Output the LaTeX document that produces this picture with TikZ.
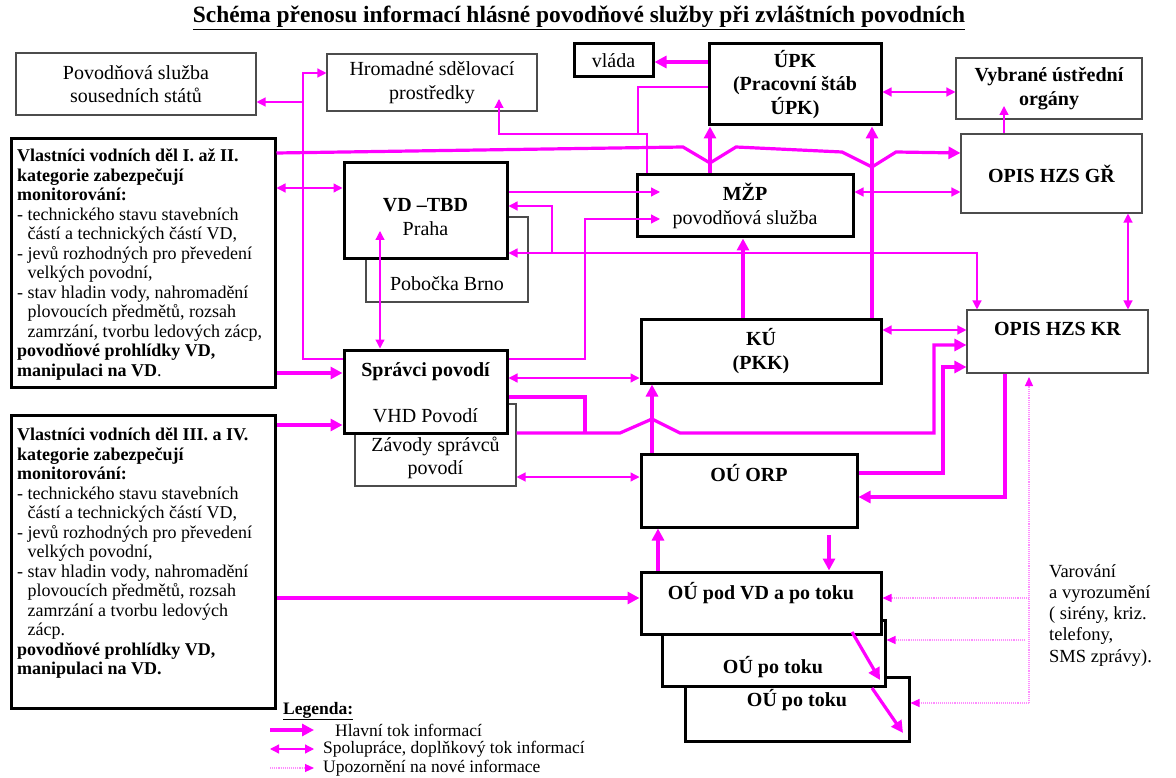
\documentclass[tikz,border=0pt]{standalone}
\usepackage{fontspec}
\setmainfont{Liberation Serif}
\usetikzlibrary{arrows.meta}
\definecolor{flow}{RGB}{255,0,255}
\def\boxfont{\fontsize{20}{23.5}\selectfont}
\def\leftfont{\fontsize{18}{19.5}\selectfont}
\def\legfont{\fontsize{17.5}{19}\selectfont}
\def\titlefont{\fontsize{23.4}{27}\selectfont\bfseries}
\tikzset{
	thickbox/.style={draw=black, line width=3pt, fill=white, inner sep=0pt, font=\boxfont, align=center},
	thinbox/.style={draw=black!70, line width=1.1pt, fill=white, inner sep=0pt, font=\boxfont, align=center},
	mainline/.style={draw=flow, line width=3.2pt, >={Triangle[length=12pt,width=12pt]}},
	sideline/.style={draw=flow, line width=1.3pt, >={Triangle[length=9pt,width=9pt]}},
	noteline/.style={draw=flow!45, line width=1.1pt, densely dotted, >={Triangle[length=9pt,width=8pt,color=flow]}},
	lefttext/.style={anchor=north west, inner sep=0pt, align=left, font=\leftfont},
	legtext/.style={anchor=west, inner sep=0pt, font=\legfont},
}

\begin{document}
\begin{tikzpicture}[x=1pt, y=-1pt]
			%%%%% START %%%%%
			\fill[white] (0,0) rectangle (1176,778);
			\useasboundingbox (0,0) rectangle (1176,778);
			
			\node[font=\titlefont] (title) at (579,18) {\underline{Schéma přenosu informací hlásné povodňové služby při zvláštních povodních}};
			
			% boxes at the back
			\node[thinbox, minimum width=162, minimum height=85] (brno) at (447,259.5) {};
			\node[thinbox, minimum width=161, minimum height=82] (zavody) at (435.5,445) {};
			\node[thickbox, minimum width=224, minimum height=64] (oupo2) at (797,709) {};
			\node[thickbox, minimum width=223, minimum height=66] (oupo1) at (773.5,653) {};
			
			% boxes
			\node[thinbox, minimum width=240, minimum height=62] (sousedni) at (136,84) {Povodňová služba\\sousedních států};
			\node[thinbox, minimum width=210, minimum height=57] (media) at (432,82.5) {Hromadné sdělovací\\prostředky};
			\node[thickbox, minimum width=79, minimum height=33] (vlada) at (613.5,60.5) {vláda};
			\node[thickbox, minimum width=172, minimum height=81, font=\boxfont\bfseries] (upk) at (795,84.5) {ÚPK\\(Pracovní štáb\\ÚPK)};
			\node[thinbox, minimum width=186, minimum height=61, font=\boxfont\bfseries] (vybrane) at (1049,88.5) {Vybrané ústřední\\orgány};
			\node[thickbox, minimum width=264, minimum height=248] (vlast1) at (143,263) {};
			\node[thickbox, minimum width=163, minimum height=96] (vdtbd) at (425.5,211) {};
			\node[thickbox, minimum width=216, minimum height=62] (mzp) at (745,206) {\textbf{MŽP}\\povodňová služba};
			\node[thinbox, minimum width=181, minimum height=79, font=\boxfont\bfseries] (opisgr) at (1051.5,173.5) {OPIS HZS GŘ};
			\node[thickbox, minimum width=240, minimum height=64, font=\boxfont\bfseries] (ku) at (761,351) {KÚ\\(PKK)};
			\node[thinbox, minimum width=181, minimum height=63] (opiskr) at (1057.5,341.5) {};
			\node[thickbox, minimum width=163, minimum height=83] (spravci) at (425.5,391.5) {};
			\node[thickbox, minimum width=264, minimum height=293] (vlast2) at (143,561.5) {};
			\node[thickbox, minimum width=216, minimum height=73] (orp) at (749,490.5) {};
			\node[thickbox, minimum width=240, minimum height=62] (oupod) at (761,603) {};
			
			% texts in the boxes
			\node[font=\boxfont, align=center] (vdtbdtxt) at (425.5,217) {\textbf{VD –TBD}\\Praha};
			\node[font=\boxfont] (brnotxt) at (447,284) {Pobočka Brno};
			\node[font=\boxfont\bfseries] (opiskrtxt) at (1057.5,329) {OPIS HZS KR};
			\node[font=\boxfont\bfseries] (spravcitxt) at (425.5,372) {Správci povodí};
			\node[font=\boxfont] (vhdtxt) at (425.5,416) {VHD Povodí};
			\node[font=\boxfont, align=center] (zavodytxt) at (435.5,458) {Závody správců\\povodí};
			\node[font=\boxfont\bfseries] (orptxt) at (749,473) {OÚ ORP};
			\node[font=\boxfont\bfseries] (oupodtxt) at (761,593) {OÚ pod VD a po toku};
			\node[font=\boxfont\bfseries] (oupo1txt) at (773,667) {OÚ po toku};
			\node[font=\boxfont\bfseries] (oupo2txt) at (797,700) {OÚ po toku};
			
			\node[lefttext] (vlast1txt) at (17,149) {\textbf{Vlastníci vodních děl I. až II.}\\
				\textbf{kategorie zabezpečují}\\
				\textbf{monitorování:}\\
				- technického stavu stavebních\\
				\phantom{- }částí a technických částí VD,\\
				- jevů rozhodných pro převedení\\
				\phantom{- }velkých povodní,\\
				- stav hladin vody, nahromadění\\
				\phantom{- }plovoucích předmětů, rozsah\\
				\phantom{- }zamrzání, tvorbu ledových zácp,\\
				\textbf{povodňové prohlídky VD,}\\
				\textbf{manipulaci na VD}.};
			\node[lefttext] (vlast2txt) at (17,428) {\textbf{Vlastníci vodních děl III. a IV.}\\
				\textbf{kategorie zabezpečují}\\
				\textbf{monitorování:}\\
				- technického stavu stavebních\\
				\phantom{- }částí a technických částí VD,\\
				- jevů rozhodných pro převedení\\
				\phantom{- }velkých povodní,\\
				- stav hladin vody, nahromadění\\
				\phantom{- }plovoucích předmětů, rozsah\\
				\phantom{- }zamrzání a tvorbu ledových\\
				\phantom{- }zácp.\\
				\textbf{povodňové prohlídky VD,}\\
				\textbf{manipulaci na VD.}};
			
			\node[lefttext, font=\fontsize{18.5}{21.3}\selectfont] (varovani) at (1049,564) {Varování\\a vyrozumění\\( sirény, kriz.\\telefony,\\SMS zprávy).};
			
			% thin lines
			\draw[sideline, ->] (spravci.west |- 0,359) -- (303,359) -- (303,73) -- (media.west |- 0,73);
			\draw[sideline, ->] (303,102) -- (sousedni.east |- 0,102);
			\draw[sideline, <->] (vlast1.east |- 0,188) -- (vdtbd.west |- 0,188);
			\draw[sideline] (upk.west |- 0,87) -- (638,87) -- (638,134);
			\draw[sideline, ->] (mzp.north -| 647,0) -- (647,134) -- (499,134) -- (499,99);
			\draw[sideline, <->] (upk.east |- 0,92) -- (vybrane.west |- 0,92);
			\draw[sideline, ->] (opisgr.north -| 1004,0) -- (1004,106);
			\draw[sideline, ->] (vdtbd.east |- 0,192) -- (660,192);
			\draw[sideline, ->] (spravci.east |- 0,359) -- (585,359) -- (585,219) -- (660,219);
			\draw[sideline, <->] (vdtbd.east |- 0,253) -- (977,253) -- (opiskr.north -| 977,0);
			\draw[sideline, ->] (552,253) -- (552,206) -- (vdtbd.east |- 0,206);
			\draw[sideline, <->] (380,231) -- (spravci.north -| 380,0);
			\draw[sideline, <->] (mzp.east |- 0,192) -- (opisgr.west |- 0,192);
			\draw[sideline, <->] (opisgr.south -| 1128,0) -- (opiskr.north -| 1128,0);
			\draw[sideline, <->] (spravci.east |- 0,378) -- (ku.west |- 0,378);
			\draw[sideline, <->] (zavody.east |- 0,477) -- (orp.west |- 0,477);
			\draw[sideline, <->] (ku.east |- 0,330) -- (opiskr.west |- 0,330);
			
			% thick lines
			\draw[mainline, ->] (vlast1.east |- 0,153) -- (683,147) -- (710,163) -- (736,147) -- (842,152) -- (872,167) -- (896,152) -- (opisgr.west |- 0,153);
			\draw[mainline, ->] (mzp.north -| 710,0) -- (upk.south -| 710,0);
			\draw[mainline, ->] (ku.north -| 872,0) -- (upk.south -| 872,0);
			\draw[mainline, ->] (upk.west |- 0,62) -- (vlada.east |- 0,62);
			\draw[mainline, ->] (vlast1.east |- 0,373) -- (spravci.west |- 0,373);
			\draw[mainline, ->] (vlast2.east |- 0,425) -- (spravci.west |- 0,425);
			\draw[mainline, ->] (vlast2.east |- 0,598) -- (oupod.west |- 0,598);
			\draw[mainline, ->] (orp.north -| 652,0) -- (ku.south -| 652,0);
			\draw[mainline, ->] (ku.north -| 743,0) -- (mzp.south -| 743,0);
			\draw[mainline] (spravci.east |- 0,397) -- (585,397) -- (585,433);
			\draw[mainline, ->] (zavody.east |- 0,433) -- (620,433) -- (652,419) -- (680,433) -- (934,433) -- (934,345) -- (opiskr.west |- 0,345);
			\draw[mainline, ->] (orp.east |- 0,473) -- (943,473) -- (943,367) -- (opiskr.west |- 0,367);
			\draw[mainline, ->] (opiskr.south -| 1005,0) -- (1005,497) -- (orp.east |- 0,497);
			\draw[mainline, ->] (oupod.north -| 658,0) -- (orp.south -| 658,0);
			\draw[mainline, ->] (829,535) -- (oupod.north -| 829,0);
			\draw[mainline, ->] (852,632) -- (880,680);
			\draw[mainline, ->] (872,688) -- (903,733);
			
			% dotted lines
			\draw[noteline, ->] (1029,703) -- (1029,377);
			\draw[noteline, ->] (1029,598) -- (oupod.east |- 0,598);
			\draw[noteline, ->] (1025,640) -- (oupo1.east |- 0,640);
			\draw[noteline, ->] (1029,703) -- (oupo2.east |- 0,703);
			
			% legend
			\node[legtext, font=\legfont\bfseries] (legenda) at (283,711) {\underline{Legenda:}};
			\draw[mainline, ->] (270,730) -- (314,730);
			\node[legtext] (legmain) at (335,730) {Hlavní tok informací};
			\draw[sideline, <->] (270,749) -- (314,749);
			\node[legtext] (legside) at (323,749) {Spolupráce, doplňkový tok informací};
			\draw[noteline, ->] (270,768) -- (314,768);
			\node[legtext] (legnote) at (323,768) {Upozornění na nové informace};
			
			%%%%% END %%%%%
\end{tikzpicture}
\end{document}
